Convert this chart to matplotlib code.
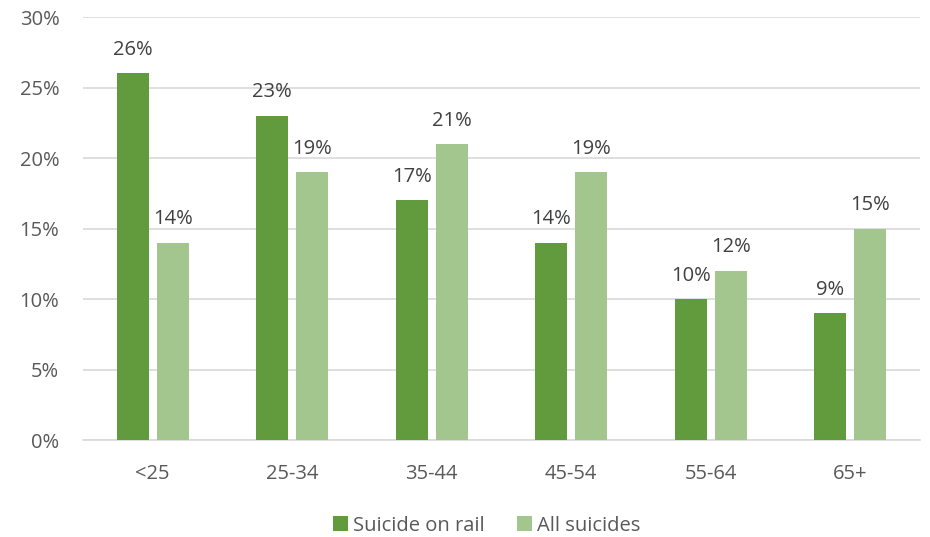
import matplotlib
matplotlib.use("Agg")
import matplotlib.pyplot as plt
import numpy as np

categories = ["<25", "25-34", "35-44", "45-54", "55-64", "65+"]
rail = [26, 23, 17, 14, 10, 9]
all_suicides = [14, 19, 21, 19, 12, 15]
yticks = [0, 5, 10, 15, 20, 25, 30]

dark = "#629A3E"
light = "#A3C68F"
text_col = "#595959"
fs = 14.5

plt.rcParams["font.family"] = ["Open Sans", "DejaVu Sans"]

fig = plt.figure(figsize=(9.3, 5.37), dpi=100)
ax = fig.add_axes([0.0892, 0.1806, 0.9, 0.7877])

x = np.arange(len(categories))
w = 0.229
off = 0.143
b1 = ax.bar(x - off, rail, w, color=dark, label="Suicide on rail", zorder=3)
b2 = ax.bar(x + off, all_suicides, w, color=light, label="All suicides", zorder=3)

for bars, vals in ((b1, rail), (b2, all_suicides)):
    for r, v in zip(bars, vals):
        ax.text(r.get_x() + r.get_width() / 2, v + 0.95, f"{v}%", ha="center",
                va="bottom", fontsize=fs, color="#404040")

ax.set_xlim(-0.5, len(categories) - 0.5)
ax.set_ylim(0, 30)
ax.set_yticks(yticks)
ax.set_yticklabels([f"{t}%" for t in yticks])
ax.set_xticks(x)
ax.set_xticklabels(categories)
ax.tick_params(axis="both", length=0, labelsize=fs, labelcolor=text_col)
ax.tick_params(axis="y", pad=17)
ax.tick_params(axis="x", pad=17)
ax.grid(axis="y", color="#D9D9D9", linewidth=1.2, zorder=0)
for s in ("top", "right", "left"):
    ax.spines[s].set_visible(False)
ax.spines["bottom"].set_color("#D9D9D9")
ax.spines["bottom"].set_linewidth(1.2)

leg = fig.legend(loc="lower center", bbox_to_anchor=(0.523, -0.031), ncol=2, frameon=False,
                 fontsize=fs, handlelength=0.75, handleheight=0.75, columnspacing=1.6,
                 handletextpad=0.25)
for t in leg.get_texts():
    t.set_color(text_col)

fig.savefig("out.png", dpi=100)
